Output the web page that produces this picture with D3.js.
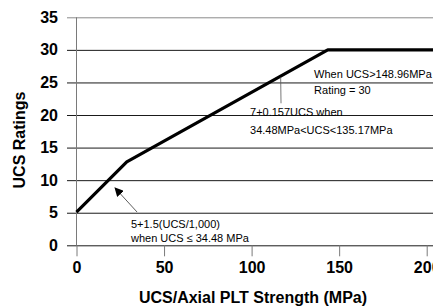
<!DOCTYPE html>
<html>
<head>
<meta charset="utf-8">
<script src="https://cdn.jsdelivr.net/npm/d3@7"></script>
<style>
  body { margin: 0; background: #fff; }
  svg { display: block; font-family: Arial, "Liberation Sans", sans-serif; }
</style>
</head>
<body>
<div id="chart"></div>
<script>
// data
const ucs = [0, 28.7, 143.5, 210];
const rating = [5.1, 12.8, 30, 30];
const xTicks = [0, 50, 100, 150, 200];
const yTicks = [0, 5, 10, 15, 20, 25, 30, 35];

// annotation texts and their anchor points (data units)
const noteText = ["When UCS>148.96MPa", "Rating = 30", "7+0.157UCS when",
    "34.48MPa<UCS<135.17MPa", "5+1.5(UCS/1,000)", "when UCS \u2264 34.48 MPa"];
const noteX = [135.7, 135.7, 99.1, 99.1, 31.1, 31.1];
const noteY = [25.68, 23.23, 19.85, 17.09, 2.66, 0.51];

// set the dimensions
const W = 433, H = 306;
const margin = { top: 17.3, left: 76.5 };
const gridLeft = 67;

const svg = d3.select("#chart")
    .append("svg")
    .attr("width", W)
    .attr("height", H);

const x = d3.scaleLinear().domain([0, 200]).range([margin.left, 426.7]);
const y = d3.scaleLinear().domain([0, 35]).range([245.3, margin.top]);

// Y axis with gridlines
const yAxis = svg.append("g")
    .attr("transform", `translate(${W},0)`)
    .call(d3.axisLeft(y).tickValues(yTicks).tickSize(W - gridLeft).tickPadding(9));
yAxis.select(".domain").remove();
yAxis.selectAll("line")
    .attr("stroke", d => d === 35 ? "#8a8a8a" : "#1a1a1a");
yAxis.selectAll("text")
    .attr("fill", "#000")
    .style("font-size", "16px")
    .style("font-weight", "bold");

// vertical axis line
svg.append("line")
    .attr("x1", x(0)).attr("x2", x(0))
    .attr("y1", y(35)).attr("y2", y(0))
    .attr("stroke", "#7a7a7a");

// X axis
const xAxis = svg.append("g")
    .attr("transform", `translate(0,${y(0)})`)
    .call(d3.axisBottom(x).tickValues(xTicks).tickSize(11).tickPadding(5));
xAxis.select(".domain").remove();
xAxis.selectAll("line").attr("stroke", "#7a7a7a");
xAxis.selectAll("text")
    .attr("fill", "#000")
    .style("font-size", "16px")
    .style("font-weight", "bold");

// the rating line
const pts = ucs.map((d, i) => [d, rating[i]]);
svg.append("path")
    .datum(pts)
    .attr("fill", "none")
    .attr("stroke", "#000")
    .attr("stroke-width", 3.2)
    .attr("stroke-linejoin", "round")
    .attr("d", d3.line().x(d => x(d[0])).y(d => y(d[1])));

// arrow for the first segment note
svg.append("defs").append("marker")
    .attr("id", "arr")
    .attr("viewBox", "0 0 10 10")
    .attr("refX", 9).attr("refY", 5)
    .attr("markerWidth", 9).attr("markerHeight", 9)
    .attr("markerUnits", "userSpaceOnUse")
    .attr("orient", "auto")
    .append("path")
    .attr("d", "M0,0 L10,5 L0,10 z")
    .attr("fill", "#000");

svg.append("line")
    .attr("x1", x(34.6)).attr("y1", y(5.1))
    .attr("x2", x(22)).attr("y2", y(8.8))
    .attr("stroke", "#333")
    .attr("stroke-width", 0.8)
    .attr("marker-end", "url(#arr)");

// leader for the middle note
svg.append("line")
    .attr("x1", x(116.6)).attr("y1", y(25.8))
    .attr("x2", x(116.8)).attr("y2", y(21.8))
    .attr("stroke", "#555")
    .attr("stroke-width", 0.8);

// notes
svg.selectAll(".note")
    .data(noteText)
    .join("text")
    .attr("class", "note")
    .attr("x", (d, i) => x(noteX[i]))
    .attr("y", (d, i) => y(noteY[i]))
    .attr("fill", "#000")
    .style("font-size", "11px")
    .text(d => d);

// axis titles
svg.append("text")
    .attr("x", 253)
    .attr("y", 303)
    .attr("text-anchor", "middle")
    .style("font-size", "16px")
    .style("font-weight", "bold")
    .text("UCS/Axial PLT Strength (MPa)");

svg.append("text")
    .attr("transform", "translate(25,140) rotate(-90)")
    .attr("text-anchor", "middle")
    .style("font-size", "16px")
    .style("font-weight", "bold")
    .text("UCS Ratings");
</script>
</body>
</html>
